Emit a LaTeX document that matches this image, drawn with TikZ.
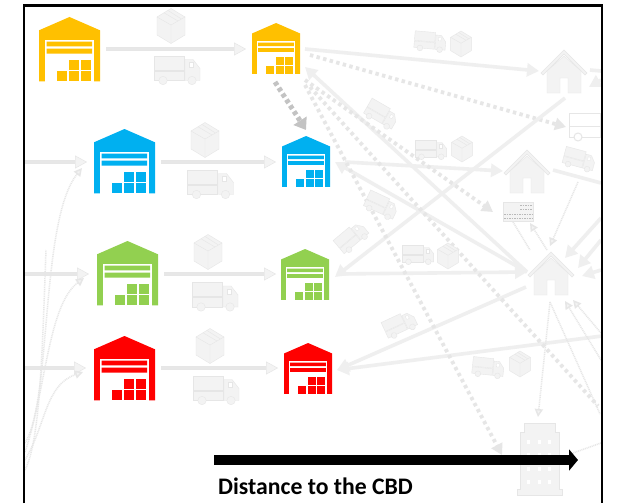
\documentclass[tikz,border=0pt]{standalone}
\usepackage{fontspec}
\setmainfont{Carlito}
\usetikzlibrary{arrows.meta}
\definecolor{gfill}{HTML}{F3F3F3}
\definecolor{gedge}{HTML}{E6E6E6}
\definecolor{gflow}{HTML}{EFEFEF}
\definecolor{gdot}{HTML}{E6E6E6}
\definecolor{wyellow}{HTML}{FFC000}
\definecolor{wblue}{HTML}{00B0F0}
\definecolor{wgreen}{HTML}{92D050}
\definecolor{wred}{HTML}{FF0000}
\tikzset{
 rowflow/.style={draw=gedge,line width=.5pt,double=gfill!90!gray,double distance=2.4pt,-{Triangle[length=12pt,width=13pt,fill=gfill]}},
 flow/.style={draw=gflow,line width=3.6pt,-{Triangle[length=12pt,width=13pt]}},
 flowplain/.style={draw=gflow,line width=3.6pt},
 dotflow/.style={draw=gdot,line width=3.8pt,dash pattern=on 3.4pt off 3.4pt,-{Triangle[length=11pt,width=12pt]}},
 dotplain/.style={draw=gdot,line width=3.8pt,dash pattern=on 3.4pt off 3.4pt},
 bigdot/.style={draw=gedge!85!black,line width=5pt,dash pattern=on 4pt off 3pt,-{Triangle[length=11pt,width=15pt]}},
 thinflow/.style={draw=gedge,line width=1.5pt,dash pattern=on 1pt off .8pt,-{Triangle[length=8pt,width=8pt,fill=gfill]}},
 thinplain/.style={draw=gedge,line width=1.5pt,dash pattern=on 1pt off .8pt},
 gicon/.style={fill=gfill,draw=gedge,line width=.4pt},
 mainarrow/.style={draw=black,line width=10pt,-{Triangle[length=9pt,width=21pt]}},
 frameline/.style={draw=black,line width=2.2pt},
 caption/.style={font=\bfseries\fontsize{23.7}{26}\selectfont,inner sep=0pt,anchor=west,text=black}
}
% warehouse: top-left x, top y, scale, colour
\newcommand{\wareh}[4]{%
 \begin{scope}[shift={(#1,#2)},scale=#3]
  \fill[#4] (0,64.3)--(0,13.3)--(30.5,0)--(61,13.3)--(61,64.3)--cycle;
  \fill[white] (6,22.7) rectangle (55,64.5);
  \fill[#4] (7.7,24.7) rectangle (53,29.3) (7.7,31.7) rectangle (53,36.7);
  \foreach \bx/\by in {18/54,30/54,41.7/54,30/42.6,41.7/42.6}
   \fill[#4] (\bx,\by) rectangle ++(10.2,10.2);
 \end{scope}}
% truck centred: x, y, scale, rotation
\newcommand{\gtruck}[4]{%
 \begin{scope}[shift={(#1,#2)},rotate=#4,scale=#3]
  \path[gicon] (-23,-14.5) rectangle (7,-.5);
  \path[gicon] (-23,.5) rectangle (7,10);
  \path[gicon] (8,-11) -- (16,-11) -- (23,-2) -- (23,10) -- (8,10) -- cycle;
  \path[fill=white,draw=gedge,line width=.3pt] (12,-8) rectangle (16,-3);
  \path[gicon] (-14,10) circle (4.2);
  \path[gicon] (15,10) circle (4.2);
 \end{scope}}
% box centred: x, y, scale
\newcommand{\gbox}[3]{%
 \begin{scope}[shift={(#1,#2)},scale=#3]
  \path[gicon] (0,-17.5)--(14,-9)--(14,9)--(0,17.5)--(-14,9)--(-14,-9)--cycle;
  \draw[gedge,line width=.4pt] (-14,-9)--(0,-1)--(14,-9) (0,-1)--(0,17.5) (-7,-13.2)--(7,-5) (-3,-15.5)--(10,-7.3);
 \end{scope}}
% house centred: x, y, scale
\newcommand{\ghouse}[3]{%
 \begin{scope}[shift={(#1,#2)},scale=#3]
  \path[gicon] (0,-21)--(23,2)--(21,4)--(0,-17)--(-21,4)--(-23,2)--cycle;
  \path[gicon] (-17,0)--(0,-15)--(17,0)--(17,22)--(4,22)--(4,7)--(-4,7)--(-4,22)--(-17,22)--cycle;
 \end{scope}}
\begin{document}
\begin{tikzpicture}[x=1pt,y=-1pt]
\useasboundingbox[fill=white] (0,0) rectangle (618,503);
% end points
\coordinate (yA) at (106,49); \coordinate (yB) at (246,49);
\coordinate (lb) at (25,162); \coordinate (bA) at (87,162);
\coordinate (bB) at (161,162); \coordinate (bC) at (276,162);
\coordinate (lg) at (25,274); \coordinate (gA) at (89,274);
\coordinate (gB) at (164,274); \coordinate (gC) at (276,274);
\coordinate (lr) at (25,368); \coordinate (rA) at (86,368);
\coordinate (rB) at (161,368); \coordinate (rC) at (278,368);
\coordinate (yOut) at (305,49); \coordinate (hA) at (539,71);
\coordinate (yD) at (310,55); \coordinate (van) at (566,127);
\coordinate (hAb) at (565,98); \coordinate (gIn) at (335,277);
\coordinate (hC) at (527,272); \coordinate (yIn) at (305,67);
\coordinate (bIn) at (335,162); \coordinate (bOut) at (345,162);
\coordinate (hB) at (503,171); \coordinate (gOut) at (337,274);
\coordinate (hCb) at (526,287); \coordinate (rIn) at (337,370);
\coordinate (eR) at (602,336);
\coordinate (y1) at (305,80); \coordinate (board) at (493,212);
\coordinate (y2) at (310,87); \coordinate (eD) at (598,406);
\coordinate (y3) at (305,85); \coordinate (tow) at (502,455);
\coordinate (y4) at (275,82); \coordinate (bTop) at (306,130);
\coordinate (hCd) at (550,302); \coordinate (towT) at (538,417);
\coordinate (eE) at (600,414); \coordinate (hCe) at (565,301);
\coordinate (eF) at (601,360); \coordinate (hCf) at (573,300);
\coordinate (eG) at (601,333); \coordinate (bdS) at (513,222);
\coordinate (bdE) at (530,250); \coordinate (bdT) at (530,223);
\coordinate (bdF) at (547,250); \coordinate (upT) at (550,246);
\coordinate (upF) at (578,182); \coordinate (tr1) at (553,170);
\coordinate (tr2) at (601,183); \coordinate (e1) at (590,70);
\coordinate (e2) at (601,71); \coordinate (e3) at (601,80);
\coordinate (e4) at (589,87); \coordinate (e5) at (601,218);
\coordinate (e6) at (565,258); \coordinate (e7) at (601,240);
\coordinate (e8) at (578,268); \coordinate (e9) at (601,270);
\coordinate (e10) at (582,276); \coordinate (to1) at (573,453);
\coordinate (to2) at (601,443);
\coordinate (cb) at (25,443); \coordinate (cbT) at (82,168);
\coordinate (cg) at (25,452); \coordinate (cgT) at (84,278);
\coordinate (cr) at (25,460); \coordinate (crT) at (83,372);
\coordinate (cx) at (25,470); \coordinate (cxT) at (46,250);
\coordinate (arA) at (214,460); \coordinate (arB) at (578,460);
% row arrows
\draw[rowflow] (yA)--(yB);
\draw[rowflow] (lb)--(bA);
\draw[rowflow] (bB)--(bC);
\draw[rowflow] (lg)--(gA);
\draw[rowflow] (gB)--(gC);
\draw[rowflow] (lr)--(rA);
\draw[rowflow] (rB)--(rC);
% left thin curves
\draw[thinflow] (cb) .. controls (52,400) and (40,220) .. (cbT);
\draw[thinflow] (cg) .. controls (46,390) and (48,305) .. (cgT);
\draw[thinflow] (cr) .. controls (46,425) and (45,385) .. (crT);
\draw[thinplain] (cx) .. controls (40,440) and (42,360) .. (cxT);
% right flows
\draw[flow] (yOut)--(hA);
\draw[dotflow] (yD)--(van);
\draw[flow] (hAb)--(gIn);
\draw[flow] (hC)--(yIn);
\draw[flow] (hC)--(bIn);
\draw[flow] (bOut)--(hB);
\draw[flow] (gOut)--(hC);
\draw[flow] (hCb)--(rIn);
\draw[flow] (eR)--(rIn);
\draw[dotflow] (y1)--(board);
\draw[dotplain] (y2)--(eD);
\draw[dotflow] (y3)--(tow);
\draw[bigdot] (y4)--(bTop);
\draw[thinflow] (hCd)--(towT);
\draw[thinplain] (hCd)--(eE);
\draw[thinflow] (eF)--(hCe);
\draw[thinflow] (eG)--(hCf);
\draw[thinplain] (bdS)--(bdE);
\draw[thinflow] (bdF)--(bdT);
\draw[thinflow] (upF)--(upT);
\draw[flowplain] (tr1)--(tr2);
\draw[flowplain] (e1)--(e2);
\draw[flow] (e3)--(e4);
\draw[flow] (e5)--(e6);
\draw[flow] (e7)--(e8);
\draw[flow] (e9)--(e10);
\draw[thinplain] (to1)--(to2);
% warehouses
\wareh{39}{17}{1}{wyellow}
\wareh{252}{23}{.79}{wyellow}
\wareh{94}{129}{1}{wblue}
\wareh{282}{136}{.79}{wblue}
\wareh{97}{241}{1}{wgreen}
\wareh{281}{249}{.79}{wgreen}
\wareh{94}{336}{1}{wred}
\wareh{284}{343}{.79}{wred}
% row icons
\gbox{171}{26}{1}
\gbox{205}{140}{1}
\gbox{208}{252}{1}
\gbox{210}{346}{1}
\gtruck{177}{70.5}{1}{0}
\gtruck{210.5}{184.5}{1}{0}
\gtruck{215}{297}{1}{0}
\gtruck{216}{390.5}{1}{0}
% right icons
\gtruck{430}{42}{.68}{-5}
\gbox{461}{44}{.74}
\gtruck{381}{115}{.7}{-30}
\gtruck{431}{150}{.68}{0}
\gbox{462}{149}{.74}
\gtruck{381}{206}{.7}{-25}
\gtruck{352}{238}{.7}{40}
\gtruck{418}{255}{.68}{0}
\gbox{448}{256}{.74}
\gtruck{400}{325}{.7}{25}
\gtruck{488}{368}{.68}{-6}
\gbox{520}{364}{.74}
\gtruck{579}{160}{.68}{-15}
% buildings
\ghouse{564}{71}{1}
\ghouse{527}{171}{1}
\ghouse{551}{273}{1}
% delivery icon
\path[fill=white,draw=gedge,line width=1pt] (569,113) rectangle (600,137);
\draw[gedge,line width=1pt] (569,126)--(600,126);
\path[fill=white,draw=gedge,line width=1pt] (578,137) circle (4);
% board icon
\path[fill=gfill,draw=gedge,line width=.5pt] (503,202) rectangle (533,221);
\draw[gray!55,line width=.8pt,dash pattern=on 1.5pt off 1pt] (520,205)--(532,205) (520,209)--(532,209) (504,214)--(532,214) (504,218)--(532,218);
% tower
\path[gicon] (517,495)--(517,489)--(520,489)--(520,432)--(524,432)--(524,423)--(555,423)--(555,432)--(559,432)--(559,489)--(562,489)--(562,495)--cycle;
\foreach \tx in {527,538,548}
 \foreach \ty in {440,453,467,480}
  \fill[white] (\tx,\ty) rectangle ++(3,3.5);
% black arrow and caption
\draw[mainarrow] (arA)--(arB);
\node[caption] (cap) at (218,486.5) {Distance to the CBD};
% frame
\draw[frameline] (24,503)--(24,5.5)--(602,5.5)--(602,503);
\end{tikzpicture}
\end{document}
